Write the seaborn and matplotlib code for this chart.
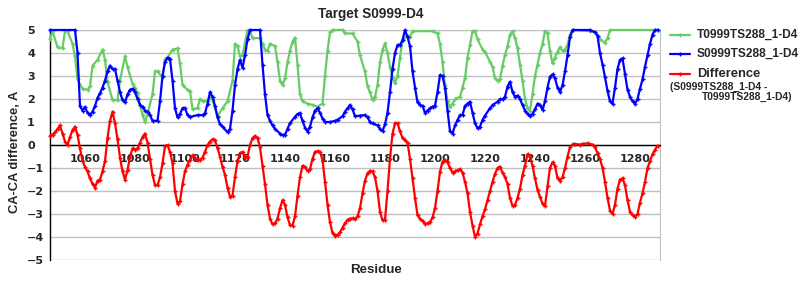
import matplotlib
matplotlib.use("Agg")
import matplotlib.pyplot as plt
from matplotlib.lines import Line2D
from matplotlib.ticker import MultipleLocator
import seaborn as sns

# ---- data ----
t_res = [1046, 1047, 1049, 1051, 1052, 1053, 1055, 1056, 1057, 1059, 1061, 1062, 1063, 1065, 1067, 1068,
         1069, 1071, 1073, 1074, 1076, 1077, 1079, 1080, 1081, 1083, 1084, 1085, 1087, 1088, 1089, 1091,
         1092, 1093, 1095, 1097, 1098, 1099, 1101, 1102, 1103, 1105, 1106, 1107, 1109, 1110, 1111, 1113,
         1115, 1117, 1119, 1120, 1121, 1122, 1123, 1125, 1126, 1127, 1130, 1131, 1132, 1133, 1134, 1136,
         1137, 1138, 1139, 1140, 1141, 1142, 1143, 1144, 1145, 1146, 1147, 1149, 1151, 1153, 1155, 1156,
         1157, 1158, 1159, 1163, 1164, 1167, 1169, 1170, 1172, 1173, 1174, 1175, 1176, 1177, 1178, 1179,
         1180, 1181, 1182, 1183, 1184, 1185, 1186, 1187, 1189, 1190, 1191, 1199, 1201, 1202, 1203, 1204,
         1205, 1206, 1207, 1208, 1210, 1211, 1212, 1213, 1214, 1215, 1216, 1217, 1219, 1220, 1222, 1223,
         1224, 1225, 1226, 1227, 1228, 1229, 1230, 1231, 1232, 1233, 1234, 1235, 1236, 1237, 1238, 1239,
         1240, 1241, 1242, 1243, 1244, 1245, 1246, 1247, 1248, 1249, 1250, 1251, 1252, 1253, 1254, 1255,
         1262, 1264, 1266, 1268, 1269, 1270, 1289]
t_val = [4.6, 4.95, 4.25, 4.2, 4.95, 4.95, 4.4, 3.85, 2.85, 2.45, 2.4, 2.55, 3.45, 3.7, 4.15, 3.7,
         2.75, 1.95, 1.95, 2.8, 3.85, 3.4, 2.65, 2.5, 2.25, 1.3, 1.0, 1.35, 2.2, 3.2, 3.2, 2.95,
         3.75, 3.8, 4.15, 4.2, 3.55, 2.6, 2.4, 2.35, 1.55, 1.6, 2.0, 1.9, 1.9, 2.1, 1.95, 1.25,
         1.6, 1.9, 2.8, 4.4, 4.3, 3.85, 3.9, 5.0, 4.95, 4.65, 4.65, 4.4, 4.15, 4.1, 4.4, 4.3,
         3.6, 2.8, 2.6, 2.9, 3.6, 4.1, 4.5, 4.67, 3.5, 2.2, 1.9, 1.8, 1.74, 1.67, 1.8, 3.0,
         4.1, 4.9, 5.0, 5.0, 4.85, 4.85, 4.5, 3.9, 3.2, 2.55, 2.3, 1.96, 2.1, 2.6, 3.6, 4.13,
         4.42, 4.0, 3.4, 2.9, 2.68, 3.0, 3.8, 4.6, 4.75, 4.7, 4.95, 4.95, 4.85, 4.4, 3.6, 2.6,
         1.9, 1.65, 1.8, 2.0, 2.1, 2.5, 2.9, 3.8, 4.35, 4.95, 4.95, 4.6, 4.15, 4.05, 3.62, 3.4,
         2.9, 2.8, 2.85, 3.45, 3.9, 4.3, 4.8, 4.95, 4.65, 4.2, 3.5, 2.8, 2.0, 1.6, 1.5, 2.2,
         3.0, 3.5, 4.0, 4.4, 4.95, 4.85, 4.1, 3.55, 3.8, 4.06, 4.25, 4.1, 4.15, 4.35, 4.8, 5.0,
         4.95, 4.9, 4.6, 4.45, 4.65, 5.0, 5.0]

s_res = [1046, 1056, 1057, 1058, 1059, 1060, 1061, 1062, 1063, 1064, 1065, 1066, 1067, 1068, 1069, 1070,
         1071, 1072, 1073, 1074, 1075, 1076, 1077, 1078, 1079, 1080, 1081, 1082, 1083, 1084, 1085, 1086,
         1087, 1089, 1090, 1091, 1092, 1093, 1094, 1095, 1096, 1097, 1098, 1099, 1100, 1101, 1102, 1105,
         1107, 1108, 1109, 1110, 1111, 1112, 1113, 1114, 1115, 1117, 1118, 1119, 1120, 1121, 1122, 1123,
         1124, 1125, 1126, 1130, 1131, 1132, 1133, 1134, 1135, 1136, 1138, 1139, 1140, 1141, 1142, 1144,
         1145, 1146, 1147, 1148, 1149, 1150, 1151, 1152, 1153, 1154, 1155, 1156, 1158, 1160, 1161, 1163,
         1164, 1165, 1166, 1167, 1168, 1170, 1172, 1173, 1174, 1175, 1177, 1178, 1179, 1180, 1181, 1182,
         1183, 1184, 1185, 1186, 1187, 1188, 1189, 1190, 1191, 1192, 1193, 1194, 1195, 1196, 1197, 1198,
         1199, 1200, 1201, 1202, 1203, 1204, 1205, 1206, 1207, 1208, 1209, 1210, 1211, 1212, 1213, 1214,
         1215, 1216, 1217, 1218, 1219, 1220, 1222, 1223, 1225, 1226, 1227, 1228, 1229, 1230, 1231, 1232,
         1233, 1234, 1235, 1236, 1237, 1238, 1239, 1240, 1241, 1242, 1243, 1244, 1245, 1246, 1247, 1248,
         1249, 1250, 1251, 1252, 1253, 1254, 1255, 1262, 1264, 1265, 1266, 1267, 1268, 1269, 1270, 1271,
         1272, 1273, 1274, 1275, 1276, 1277, 1278, 1279, 1280, 1281, 1282, 1283, 1284, 1285, 1286, 1287,
         1288, 1289]
s_val = [5.0, 5.0, 4.0, 1.7, 1.5, 1.65, 1.4, 1.3, 1.45, 1.7, 2.05, 2.25, 2.5, 2.8, 3.2, 3.45,
         3.3, 3.3, 2.8, 2.3, 1.95, 1.85, 2.2, 2.4, 2.45, 2.3, 2.0, 1.75, 1.65, 1.5, 1.45, 1.3,
         1.05, 1.05, 1.9, 3.0, 3.6, 3.8, 3.75, 2.8, 1.6, 1.2, 1.35, 1.6, 1.6, 1.3, 1.22, 1.3,
         1.3, 1.38, 1.8, 2.3, 2.1, 1.7, 1.2, 0.9, 0.8, 0.55, 0.7, 1.5, 2.6, 3.3, 3.7, 3.35,
         3.9, 4.6, 5.0, 5.0, 3.5, 2.2, 1.3, 1.05, 0.85, 0.7, 0.5, 0.43, 0.45, 0.7, 0.95, 1.23,
         1.35, 1.38, 1.05, 0.75, 0.58, 0.8, 1.2, 1.5, 1.6, 1.4, 1.15, 1.0, 1.0, 1.05, 1.1, 1.25,
         1.45, 1.6, 1.74, 1.55, 1.25, 1.28, 1.3, 1.2, 1.0, 0.94, 0.85, 0.7, 0.6, 0.9, 1.4, 2.3,
         3.3, 4.0, 4.35, 4.35, 4.55, 5.0, 4.7, 4.3, 3.2, 2.5, 1.85, 1.74, 1.7, 1.4, 1.5, 1.6,
         1.67, 1.7, 2.3, 3.04, 3.0, 2.5, 1.5, 0.6, 0.5, 0.85, 1.09, 1.3, 1.3, 1.7, 1.8, 1.88,
         1.4, 0.95, 0.72, 0.8, 1.09, 1.28, 1.6, 1.74, 1.88, 2.0, 1.98, 2.1, 2.54, 2.75, 2.3, 2.1,
         2.15, 2.0, 1.74, 1.5, 1.35, 1.25, 1.35, 1.55, 1.8, 1.75, 1.52, 1.9, 2.5, 2.97, 3.07, 2.9,
         2.5, 2.3, 2.6, 3.2, 3.9, 4.7, 5.0, 5.0, 4.9, 4.75, 4.0, 3.5, 2.95, 2.35, 1.9, 1.8,
         2.5, 3.3, 3.7, 3.77, 3.1, 2.4, 2.1, 1.9, 1.8, 2.0, 2.45, 2.85, 3.4, 3.9, 4.4, 4.8,
         5.0, 5.0]

d_res = list(range(1046, 1257)) + [1258, 1259, 1261] + list(range(1263, 1290))
d_val = [0.4, 0.45, 0.55, 0.7, 0.85, 0.5, 0.15, 0.0, 0.35, 0.65, 0.8, 0.45, -0.15, -0.7,
         -0.95, -1.15, -1.45, -1.7, -1.85, -1.55, -1.5, -1.15, -0.7, 0.3, 1.05, 1.45, 0.95, 0.25,
         -0.55, -1.15, -1.5, -1.1, -0.5, -0.15, -0.2, -0.15, 0.1, 0.35, 0.5, 0.1, -0.6, -1.3,
         -1.75, -1.75, -1.4, -0.8, -0.05, 0.0, -0.3, -0.8, -2.0, -2.55, -2.45, -1.7, -1.15, -0.85,
         -0.65, -0.45, -0.55, -0.65, -0.65, -0.55, -0.3, 0.0, 0.15, 0.25, 0.2, -0.15, -0.5, -0.95,
         -1.3, -1.85, -2.25, -2.2, -1.4, -0.7, -0.35, -0.3, -0.55, -0.5, 0.0, 0.3, 0.4, 0.3,
         -0.1, -0.9, -1.7, -2.6, -3.2, -3.45, -3.4, -3.2, -2.75, -2.4, -2.6, -3.15, -3.48, -3.5,
         -3.1, -2.2, -1.4, -0.9, -0.95, -1.13, -1.05, -0.6, -0.3, -0.27, -0.3, -0.65, -1.6, -2.6,
         -3.35, -3.84, -3.94, -3.9, -3.8, -3.6, -3.4, -3.25, -3.2, -3.19, -3.22, -3.1, -2.75, -2.1,
         -1.55, -1.23, -1.12, -1.15, -1.4, -2.0, -2.9, -3.28, -3.25, -2.0, -0.6, 0.5, 0.94, 0.95,
         0.6, 0.3, 0.2, 0.1, -0.6, -1.45, -2.3, -3.05, -3.2, -3.3, -3.45, -3.4, -3.35, -3.15,
         -2.75, -2.0, -1.16, -0.72, -0.65, -0.75, -1.0, -1.2, -1.15, -1.1, -1.05, -1.2, -1.6, -2.1,
         -2.9, -3.5, -3.99, -3.85, -3.45, -3.1, -2.8, -2.4, -2.0, -1.6, -1.25, -1.0, -0.94, -1.2,
         -1.4, -1.7, -2.3, -2.65, -2.6, -2.3, -1.9, -1.3, -0.9, -0.4, -0.5, -0.9, -1.45, -1.95,
         -2.25, -2.55, -2.65, -1.8, -1.0, -0.75, -0.9, -1.45, -1.55, -1.4, -1.0, -0.5, -0.1, 0.03,
         0.04, 0.02, 0.05, 0.07, 0.02, -0.1, -0.35, -0.6, -1.0, -1.6, -2.3, -2.85, -3.0, -2.6,
         -1.9, -1.5, -1.45, -1.75, -2.4, -2.9, -3.05, -3.12, -3.0, -2.5, -2.1, -1.6, -1.0, -0.7,
         -0.4, -0.2, -0.03]

series_names = ["T0999TS288_1-D4", "S0999TS288_1-D4", "Difference"]
diff_note = ["(S0999TS288_1-D4 -", "T0999TS288_1-D4)"]
title = "Target S0999-D4"
x_label = "Residue"
y_label = "CA-CA difference, A"

# ---- styling ----
sns.set_style("white")
plt.rcParams['font.family'] = ['Liberation Sans', 'DejaVu Sans']

W, H = 800, 300
fig = plt.figure(figsize=(8, 3), dpi=100)
ax = fig.add_axes([50 / W, 40 / H, 610 / W, 230 / H])

green, blue, red = "#66cc66", "#0000ff", "#ff0000"
for res, val, col in [(t_res, t_val, green), (s_res, s_val, blue), (d_res, d_val, red)]:
    sns.lineplot(x=res, y=val, ax=ax, color=col, linewidth=1.6, marker='+',
                 markersize=3.0, markeredgewidth=1.0, markeredgecolor=col,
                 estimator=None, sort=False, zorder=3, clip_on=False)

ax.set_xlim(1046, 1290)
ax.set_ylim(-5, 5)
ax.yaxis.set_major_locator(MultipleLocator(1))
ax.xaxis.set_major_locator(MultipleLocator(20))
ax.xaxis.set_minor_locator(MultipleLocator(10))
ax.grid(axis='y', color='#c0c0c0', linewidth=1.0)
ax.grid(axis='x', visible=False)
ax.set_axisbelow(True)

ax.spines['bottom'].set_position(('data', 0))
ax.spines['bottom'].set_color('black')
ax.spines['bottom'].set_linewidth(1.0)
ax.spines['left'].set_color('black')
ax.spines['left'].set_linewidth(1.0)
ax.spines['right'].set_color('#c0c0c0')
ax.spines['top'].set_color('#c0c0c0')

ax.tick_params(axis='x', which='both', direction='out', length=4, width=1,
               color='#a8a8a8', pad=2.5, labelsize=8)
ax.tick_params(axis='y', which='both', length=0, pad=16.5, labelsize=8)
for lbl in ax.get_xticklabels():
    lbl.set_fontweight('bold')
    lbl.set_fontfamily('DejaVu Sans')
for lbl in ax.get_yticklabels():
    lbl.set_fontweight('bold')
    lbl.set_fontfamily('DejaVu Sans')
    lbl.set_horizontalalignment('left')
ax.set_xlabel('')
ax.set_ylabel('')

fig.text(371 / W, 1 - 14 / H, title, ha='center', va='center', fontweight='bold', fontsize=9.8)
fig.text(376 / W, 1 - 270 / H, x_label, ha='center', va='center', fontweight='bold', fontsize=9.6)
fig.text(15 / W, 1 - 152 / H, y_label, rotation=90, ha='center', va='center',
         fontweight='bold', fontsize=9.3)

# ---- legend ----
for yy, col, name, fs in [(35, green, series_names[0], 8.6), (54, blue, series_names[1], 8.6),
                          (74, red, series_names[2], 9.3)]:
    fy = 1 - yy / H
    fig.add_artist(Line2D([670 / W, 690 / W], [fy, fy], color=col, linewidth=1.6))
    fig.add_artist(Line2D([680 / W], [fy], color=col, marker='+', markersize=3.0,
                          markeredgewidth=1.0, linestyle='none'))
    fig.text(697 / W, fy, name, ha='left', va='center', fontweight='bold', fontsize=fs)
fig.text(670 / W, 1 - 87 / H, diff_note[0], ha='left', va='center', fontweight='bold', fontsize=7.4)
fig.text(702 / W, 1 - 97 / H, diff_note[1], ha='left', va='center', fontweight='bold', fontsize=7.4)

fig.savefig("out.png", dpi=100)
